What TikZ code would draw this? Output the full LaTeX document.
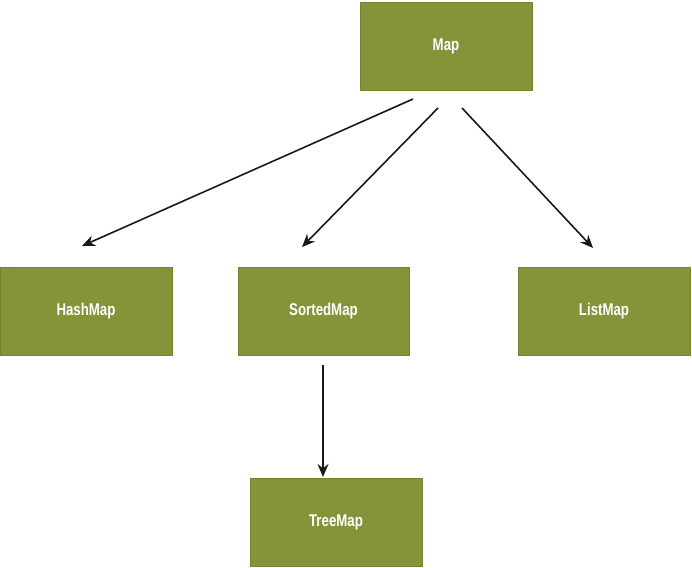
\documentclass[tikz,border=0pt]{standalone}
\usepackage{fontspec}
\setmainfont[FakeStretch=0.78,UprightFont=* Bold]{Liberation Sans}
\usetikzlibrary{arrows.meta}
\definecolor{olive}{RGB}{135,147,56}
\definecolor{olivedark}{RGB}{120,132,45}
\begin{document}
\begin{tikzpicture}[x=1pt,y=-1pt,
  cls/.style={draw=olivedark,fill=olive,line width=0.8pt,minimum width=172pt,minimum height=88pt,inner sep=0pt,text=white,font=\fontsize{17}{19}\selectfont},
  arr/.style={-{Stealth[length=13pt,width=11pt]},line width=1.6pt,black!90}]
\useasboundingbox (0,0) rectangle (692,567);
\node[cls] (map) at (446,46) {Map};
\node[cls] (hash) at (86,311) {HashMap};
\node[cls,minimum width=171pt] (sorted) at (323.5,311) {SortedMap};
\node[cls] (list) at (604,311) {ListMap};
\node[cls] (tree) at (336,522) {TreeMap};
\coordinate (m1) at (413,99);
\coordinate (m2) at (438,108);
\coordinate (m3) at (462,108);
\coordinate (h1) at (82,246);
\coordinate (s1) at (302,247);
\coordinate (l1) at (593,248);
\coordinate (s2) at (323,365);
\coordinate (t1) at (323,477);
\draw[arr] (m1) -- (h1);
\draw[arr] (m2) -- (s1);
\draw[arr] (m3) -- (l1);
\draw[arr] (s2) -- (t1);
\end{tikzpicture}
\end{document}
